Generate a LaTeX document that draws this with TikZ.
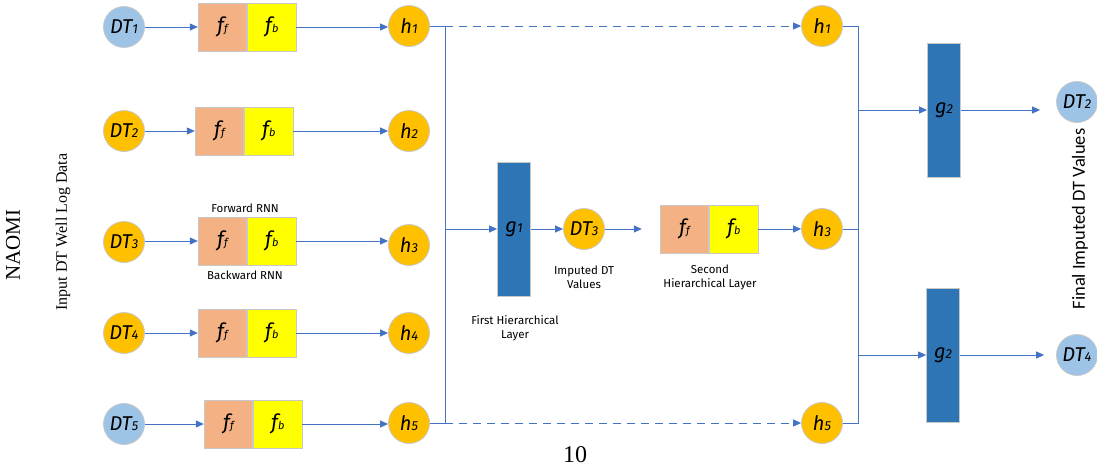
\documentclass[tikz,border=0pt]{standalone}
\usepackage{fontspec}
\setmainfont{Liberation Serif}
\newfontfamily\handfont{Fira Sans}
\newfontfamily\calibfont{Carlito}
\usetikzlibrary{arrows.meta}

\definecolor{linec}{HTML}{4472C4}
\definecolor{ffcol}{HTML}{F4B183}
\definecolor{fbcol}{HTML}{FFFF00}
\definecolor{gcol}{HTML}{2E75B6}
\definecolor{dtorange}{HTML}{FFC000}
\definecolor{dtblue}{HTML}{9DC3E6}
\definecolor{edgec}{HTML}{C8C8C8}

\newcommand\lowtxt[1]{{\fontsize{13}{13}\selectfont #1}}
\newcommand\subf[2]{#1{\fontsize{11}{11}\selectfont #2}}

\tikzset{
  roundnode/.style={circle, draw=edgec, line width=0.8pt, minimum size=41pt,
    inner sep=0pt, font=\handfont\itshape\fontsize{20}{20}\selectfont},
  orangenode/.style={roundnode, fill=dtorange},
  bluenode/.style={roundnode, fill=dtblue},
  cellbox/.style={draw=edgec, line width=0.8pt, minimum width=48.5pt,
    minimum height=48pt, inner sep=0pt, font=\handfont\itshape\fontsize{21}{21}\selectfont},
  fwdcell/.style={cellbox, fill=ffcol},
  bwdcell/.style={cellbox, fill=fbcol, anchor=west},
  gatebox/.style={draw=edgec, line width=0.8pt, fill=gcol, minimum width=33pt,
    minimum height=134pt, inner sep=0pt, font=\handfont\itshape\fontsize{20}{20}\selectfont},
  link/.style={draw=linec, line width=1pt},
  arr/.style={link, -{Triangle[width=7pt,length=8pt]}},
  dasharr/.style={arr, dash pattern=on 8pt off 6pt},
  smalllbl/.style={font=\handfont\fontsize{11.5}{14}\selectfont, align=center, inner sep=0pt},
}

\begin{document}
\begin{tikzpicture}[x=1pt, y=-1pt]
\useasboundingbox (0,0) rectangle (1097,466);

% input sequence
\node[bluenode]   (dt1) at (124,27)  {DT\lowtxt{1}};
\node[orangenode] (dt2) at (124,131) {DT\lowtxt{2}};
\node[orangenode] (dt3) at (124,242) {DT\lowtxt{3}};
\node[orangenode] (dt4) at (124,333) {DT\lowtxt{4}};
\node[bluenode]   (dt5) at (124,424) {DT\lowtxt{5}};

% bidirectional RNN cells
\node[fwdcell] (ff1) at (222.5,27)  {\subf{f}{f}};
\node[bwdcell] (fb1) at (ff1.east)  {\subf{f}{b}};
\node[fwdcell] (ff2) at (219.5,131) {\subf{f}{f}};
\node[bwdcell] (fb2) at (ff2.east)  {\subf{f}{b}};
\node[fwdcell] (ff3) at (222.5,241) {\subf{f}{f}};
\node[bwdcell] (fb3) at (ff3.east)  {\subf{f}{b}};
\node[fwdcell] (ff4) at (222.5,333) {\subf{f}{f}};
\node[bwdcell] (fb4) at (ff4.east)  {\subf{f}{b}};
\node[fwdcell] (ff5) at (228.5,424) {\subf{f}{f}};
\node[bwdcell] (fb5) at (ff5.east)  {\subf{f}{b}};

\node[smalllbl] (fwdlbl) at (245,208) {Forward RNN};
\node[smalllbl] (bwdlbl) at (245,275) {Backward RNN};

% hidden states
\node[orangenode] (h1) at (409,26)  {h\lowtxt{1}};
\node[orangenode] (h2) at (409,131) {h\lowtxt{2}};
\node[orangenode] (h3) at (409,245) {h\lowtxt{3}};
\node[orangenode] (h4) at (409,333) {h\lowtxt{4}};
\node[orangenode] (h5) at (409,423) {h\lowtxt{5}};

\foreach \i in {1,...,5}{
  \draw[arr] (dt\i.east |- ff\i) -- (ff\i.west);
  \draw[arr] (fb\i.east) -- (fb\i.east -| h\i.west);
}

% first hierarchical layer
\coordinate (busl) at (445,0);
\node[gatebox] (g1) at (514,229) {g\lowtxt{1}};
\node[orangenode] (dtm) at (584,229) {DT\lowtxt{3}};
\node[fwdcell] (ff6) at (684.5,229) {\subf{f}{f}};
\node[bwdcell] (fb6) at (ff6.east)  {\subf{f}{b}};
\node[orangenode] (r3) at (822,229) {h\lowtxt{3}};

\node[smalllbl] (firstlbl) at (515,328) {First Hierarchical\\Layer};
\node[smalllbl] (implbl) at (584,277) {Imputed DT\\Values};
\node[smalllbl] (secondlbl) at (710,277) {Second\\Hierarchical Layer};

\draw[link] (h1.east) -- (h1.east -| busl) -- (h5.east -| busl) -- (h5.east);
\draw[arr] (busl |- g1) -- (g1.west);
\draw[arr] (g1.east) -- (dtm.west);
\draw[arr, shorten >=18pt] (dtm.east) -- (ff6.west);
\draw[arr] (fb6.east) -- (r3);

% second hierarchical layer
\node[orangenode] (r1) at (822,26)  {h\lowtxt{1}};
\node[orangenode] (r5) at (822,423) {h\lowtxt{5}};
\draw[dasharr] (h1.east -| busl) -- (r1);
\draw[dasharr] (h5.east -| busl) -- (r5);

\coordinate (busr) at (858,0);
\draw[link] (r1.east) -- (r1.east -| busr) -- (r5.east -| busr) -- (r5.east);
\draw[link] (r3.east) -- (r3.east -| busr);

\node[gatebox] (g2a) at (944,110) {g\lowtxt{2}};
\node[gatebox] (g2b) at (943,355) {g\lowtxt{2}};
\node[bluenode] (out2) at (1077,102) {DT\lowtxt{2}};
\node[bluenode] (out4) at (1077,355) {DT\lowtxt{4}};

\draw[arr] (busr |- g2a) -- (g2a.west);
\draw[arr] (busr |- g2b) -- (g2b.west);
\draw[arr, shorten >=16pt] (g2a.east) -- (g2a.east -| out2.west);
\draw[arr, shorten >=12pt] (g2b.east) -- (out4.west);

% side captions
\node[rotate=90, font=\fontsize{21}{21}\selectfont] (naomi) at (13,245) {NAOMI};
\node[rotate=90, font=\fontsize{16}{16}\selectfont] (inlbl) at (63,232) {Input DT Well Log Data};
\node[rotate=90, font=\calibfont\fontsize{18.5}{18.5}\selectfont] (outlbl) at (1080,219) {Final Imputed DT Values};
\node[font=\fontsize{24}{24}\selectfont] (pageno) at (575,455) {10};
\end{tikzpicture}
\end{document}
